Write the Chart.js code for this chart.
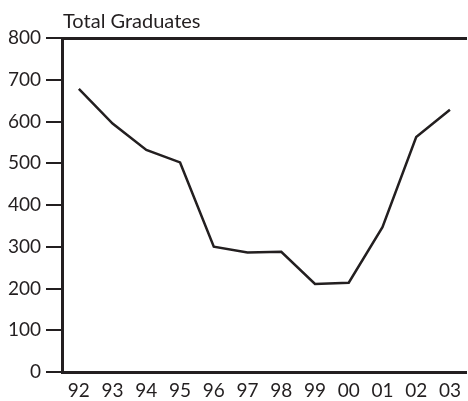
<!DOCTYPE html>
<html>
<head>
<meta charset="utf-8">
<script src="https://cdn.jsdelivr.net/npm/chart.js@4/dist/chart.umd.min.js"></script>
<style>
html,body{margin:0;padding:0;background:#fff;}
#wrap{width:468px;height:401px;position:relative;}
</style>
</head>
<body>
<div id="wrap"><canvas id="c" width="468" height="401"></canvas></div>
<script>
const categories = ['92','93','94','95','96','97','98','99','00','01','02','03'];
const graduates = [678, 595, 532, 502, 300, 286, 288, 211, 214, 347, 563, 628];
const yTicks = [0, 100, 200, 300, 400, 500, 600, 700, 800];
const chartTitle = 'Total Graduates';

const INK = '#231f20';
const FONT = 'Lato, "Open Sans", sans-serif';

const titlePlugin = {
  id: 'cornerTitle',
  afterDraw(chart) {
    const ctx = chart.ctx;
    ctx.save();
    ctx.fillStyle = INK;
    ctx.font = '20px ' + FONT;
    ctx.textBaseline = 'alphabetic';
    ctx.textAlign = 'left';
    ctx.fillText(chartTitle, chart.chartArea.left + 1, 28);
    ctx.restore();
  }
};

new Chart(document.getElementById('c'), {
  type: 'line',
  data: {
    labels: categories,
    datasets: [{
      data: graduates,
      borderColor: INK,
      borderWidth: 2.5,
      pointRadius: 0,
      tension: 0,
      fill: false
    }]
  },
  options: {
    responsive: false,
    animation: false,
    devicePixelRatio: 1,
    layout: { padding: { top: 38, right: 0, left: 0, bottom: 0 } },
    plugins: { legend: { display: false }, title: { display: false }, tooltip: { enabled: false } },
    scales: {
      x: {
        type: 'category',
        offset: true,
        afterFit(s) { s.height = 29; },
        grid: { display: false, drawTicks: false },
        border: { display: true, color: INK, width: 3 },
        ticks: { color: INK, font: { family: FONT, size: 19 }, padding: 7, maxRotation: 0, autoSkip: false }
      },
      xTop: {
        type: 'category',
        position: 'top',
        afterFit(s) { s.height = 0; },
        grid: { display: false, drawTicks: false },
        border: { display: true, color: INK, width: 3 },
        ticks: { display: false }
      },
      y: {
        min: 0,
        max: 800,
        afterFit(s) { s.width = 62; },
        afterBuildTicks(s) { s.ticks = yTicks.map(v => ({ value: v })); },
        grid: { drawOnChartArea: false, drawTicks: true, tickLength: 16, color: INK, lineWidth: 2 },
        border: { display: true, color: INK, width: 3 },
        ticks: { color: INK, font: { family: FONT, size: 19 }, padding: 5 }
      }
    }
  },
  plugins: [titlePlugin]
});
</script>
</body>
</html>
